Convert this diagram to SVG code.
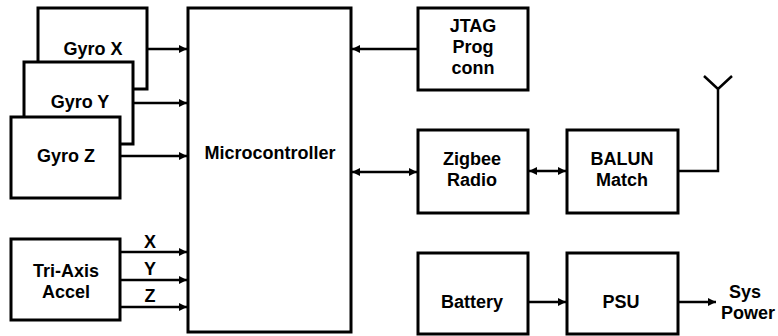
<svg xmlns="http://www.w3.org/2000/svg" width="778" height="336" viewBox="0 0 778 336">
<defs>
<marker id="ah" viewBox="0 0 10 10" refX="10" refY="5" markerWidth="8" markerHeight="8" markerUnits="userSpaceOnUse" orient="auto-start-reverse">
<path d="M0,0 L10,5 L0,10 Z" fill="#000"/>
</marker>
<style>
.box{fill:#fff;stroke:#000;stroke-width:3}
.t{font-family:"Liberation Sans",Arial,sans-serif;font-size:18px;font-weight:bold;text-anchor:middle;fill:#000}
.c{fill:none;stroke:#000;stroke-width:2.5}
.a{marker-end:url(#ah)}
.b{marker-start:url(#ah);marker-end:url(#ah)}
</style>
</defs>
<rect width="778" height="336" fill="#fff"/>
<g id="gyrox"><rect class="box" x="38" y="8" width="109" height="81"/><text class="t" x="93" y="55">Gyro X</text></g>
<g id="gyroy"><rect class="box" x="24" y="62" width="109" height="82"/><text class="t" x="80" y="108">Gyro Y</text></g>
<g id="gyroz"><rect class="box" x="11" y="117" width="109" height="81"/><text class="t" x="66" y="162">Gyro Z</text></g>
<g id="accel"><rect class="box" x="11" y="239" width="109" height="81"/><text class="t" x="66" y="277">Tri-Axis</text><text class="t" x="66" y="298">Accel</text></g>
<g id="mcu"><rect class="box" x="188" y="8" width="163" height="324"/><text class="t" x="270" y="159">Microcontroller</text></g>
<g id="jtag"><rect class="box" x="418" y="8" width="110" height="82"/><text class="t" x="473" y="32">JTAG</text><text class="t" x="473" y="53">Prog</text><text class="t" x="473" y="74">conn</text></g>
<g id="zigbee"><rect class="box" x="418" y="130" width="110" height="83"/><text class="t" x="472" y="165">Zigbee</text><text class="t" x="472" y="186">Radio</text></g>
<g id="balun"><rect class="box" x="567" y="130" width="111" height="83"/><text class="t" x="622" y="165">BALUN</text><text class="t" x="622" y="186">Match</text></g>
<g id="battery"><rect class="box" x="418" y="253" width="110" height="81"/><text class="t" x="472" y="308">Battery</text></g>
<g id="psu"><rect class="box" x="567" y="253" width="111" height="81"/><text class="t" x="621" y="308">PSU</text></g>
<g id="syspower"><text class="t" x="745" y="298">Sys</text><text class="t" x="748" y="319">Power</text></g>
<g id="antenna"><path class="c" d="M678,171 H718 V89 M704,76 L718,89 L732,76"/></g>
<g id="connectors">
<path class="c a" d="M147,49 H187"/>
<path class="c a" d="M133,103 H187"/>
<path class="c a" d="M120,156 H187"/>
<path class="c a" d="M120,252 H187"/>
<path class="c a" d="M120,280 H187"/>
<path class="c a" d="M120,307 H187"/>
<path class="c a" d="M418,49 H352"/>
<path class="c b" d="M352,172 H417"/>
<path class="c b" d="M529,171 H566"/>
<path class="c a" d="M528,302 H566"/>
<path class="c a" d="M678,302 H716"/>
</g>
<g id="labels">
<text class="t" x="150" y="248">X</text>
<text class="t" x="150" y="275">Y</text>
<text class="t" x="150" y="302">Z</text>
</g>
</svg>
